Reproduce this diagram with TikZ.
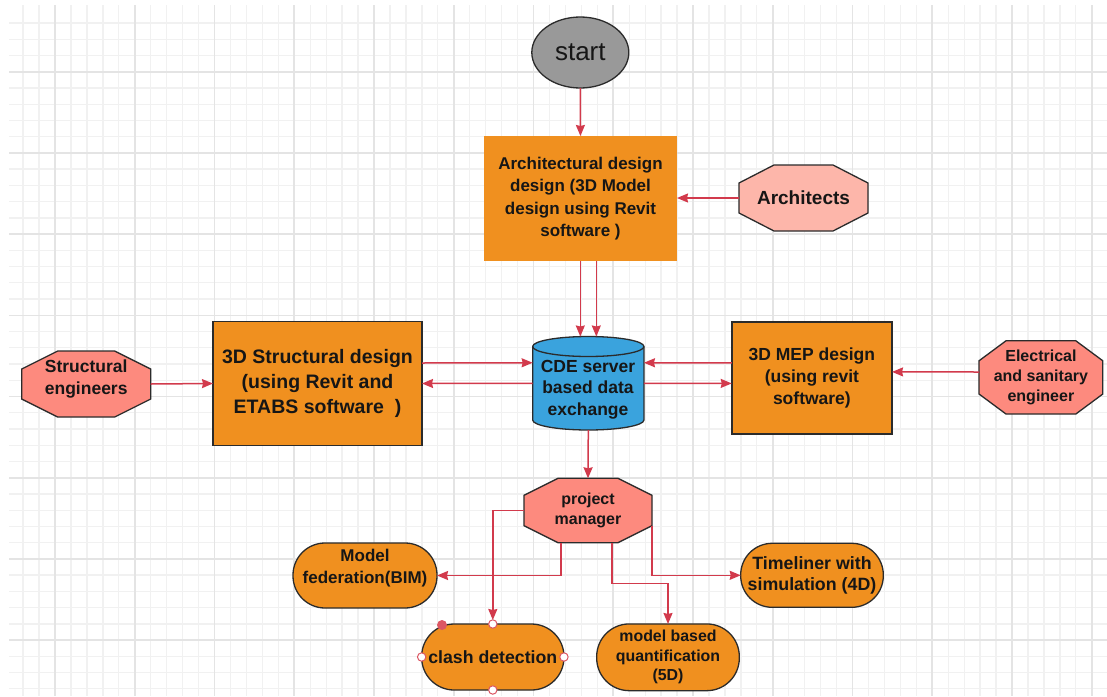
\documentclass[tikz,border=0pt]{standalone}
\usepackage{fontspec}
\setmainfont{Liberation Sans}
\usetikzlibrary{shapes.geometric, arrows.meta}

\definecolor{gridminor}{HTML}{F1F1F1}
\definecolor{gridmajor}{HTML}{E4E4E4}
\definecolor{boxorange}{HTML}{F0901F}
\definecolor{salmon}{HTML}{FD8A7E}
\definecolor{lightsalmon}{HTML}{FDB6AA}
\definecolor{cdeblue}{HTML}{3AA3DD}
\definecolor{startgray}{HTML}{999999}
\definecolor{linkred}{HTML}{D23A4C}
\definecolor{handlered}{HTML}{DC5663}
\definecolor{edge}{HTML}{2B2B2B}
\definecolor{ink}{HTML}{161616}

\pgfdeclarelayer{gridlayer}
\pgfdeclarelayer{shapelayer}
\pgfsetlayers{gridlayer,shapelayer,main}

% octagon outline drawn round a (borderless) rectangular node:
% #1 node name, #2 horizontal chamfer, #3 vertical chamfer, #4 fill colour
\newcommand\octoshape[4]{%
  \draw[line width=1.3pt, draw=edge, fill=#4, line join=miter]
    ([xshift=#2pt]#1.north west) -- ([xshift=-#2pt]#1.north east)
    -- ([yshift=-#3pt]#1.north east) -- ([yshift=#3pt]#1.south east)
    -- ([xshift=-#2pt]#1.south east) -- ([xshift=#2pt]#1.south west)
    -- ([yshift=#3pt]#1.south west) -- ([yshift=-#3pt]#1.north west) -- cycle;}

\tikzset{
  txt/.style={text=ink, align=center, inner sep=0pt},
  obox/.style={txt, rectangle, fill=boxorange, outer sep=0pt},
  octo/.style={txt, rectangle, outer sep=0pt},
  pill/.style={txt, rectangle, fill=boxorange, draw=edge, line width=1.3pt, outer sep=0pt},
  startnode/.style={ellipse, draw=edge, line width=1.3pt, fill=startgray, text=ink,
    inner sep=0pt, outer sep=0pt},
  link/.style={draw=linkred, line width=1.5pt,
    -{Stealth[length=11pt, width=9pt, inset=1pt]}},
  handle/.style={draw=handlered, fill=white, line width=1pt},
}

\begin{document}
\begin{tikzpicture}[x=1pt, y=-1pt]
\useasboundingbox (0,0) rectangle (1107,696);

% squared paper
\begin{pgfonlayer}{gridlayer}
  \fill[white] (0,0) rectangle (1107,696);
  \foreach \i in {-2,...,65}
    \draw[gridminor, line width=1.3pt] ({55+\i*15.95},5) -- ({55+\i*15.95},696);
  \foreach \j in {-3,...,38}
    \draw[gridminor, line width=1.3pt] (9,{71.7+\j*16.24}) -- (1107,{71.7+\j*16.24});
  \foreach \i in {0,5,...,65}
    \draw[gridmajor, line width=1.6pt] ({55+\i*15.95},5) -- ({55+\i*15.95},696);
  \foreach \j in {0,5,...,35}
    \draw[gridmajor, line width=1.6pt] (9,{71.7+\j*16.24}) -- (1107,{71.7+\j*16.24});
\end{pgfonlayer}

% ---- nodes ----
\node[startnode, minimum width=97pt, minimum height=71pt,
      font=\fontsize{26}{30}\selectfont] (start) at (580.3,52.5) {start};

\node[obox, minimum width=193pt, minimum height=125pt,
      font=\bfseries\fontsize{17}{22.5}\selectfont] (arch) at (580.5,198.5)
  {Architectural design\\design (3D Model\\design using Revit\\software )};

\node[octo, minimum width=129pt, minimum height=66pt,
      font=\bfseries\fontsize{19}{22}\selectfont] (architects) at (803.5,198) {Architects};

\node[octo, minimum width=129pt, minimum height=66pt] (se) at (86.2,384) {};
\node[txt, font=\bfseries\fontsize{17.5}{22}\selectfont] (setext) at (86.2,379.5)
  {Structural\\engineers};

\node[obox, draw=edge, line width=1.5pt, minimum width=209pt, minimum height=124pt,
      font=\bfseries\fontsize{19.5}{25}\selectfont] (struct) at (317.5,383.5)
  {3D Structural design\\(using Revit and\\ETABS software\ \ )};

\node[rectangle, minimum width=111.3pt, minimum height=93.5pt, inner sep=0pt,
      outer sep=0pt] (cde) at (588.3,383.25) {};
\node[txt, font=\bfseries\fontsize{17.5}{21.5}\selectfont] (cdetext) at (588,389.5)
  {CDE server\\based data\\exchange};

\node[obox, draw=edge, line width=1.5pt, minimum width=160.3pt, minimum height=112.3pt,
      font=\bfseries\fontsize{17.5}{22}\selectfont] (mep) at (811.9,377.9)
  {3D MEP design\\(using revit\\software)};

\node[octo, minimum width=123.7pt, minimum height=73.3pt,
      font=\bfseries\fontsize{16}{20}\selectfont] (elec) at (1040.9,377.4)
  {Electrical\\and sanitary\\engineer};

\node[octo, minimum width=128pt, minimum height=64.4pt,
      font=\bfseries\fontsize{16}{19.7}\selectfont] (pm) at (588,510.5)
  {project\\manager};

\node[pill, rounded corners=32pt, minimum width=144pt, minimum height=65pt] (mf) at (365,575.5) {};
\node[txt, font=\bfseries\fontsize{17}{22}\selectfont] (mftext) at (365,568)
  {Model\\federation(BIM)};

\node[pill, rounded corners=32.5pt, minimum width=142.3pt, minimum height=66pt,
      font=\bfseries\fontsize{17.7}{21}\selectfont] (clash) at (492.8,657) {clash detection};

\node[pill, rounded corners=32.5pt, minimum width=142.6pt, minimum height=66.7pt,
      font=\bfseries\fontsize{15.9}{19.5}\selectfont] (mbq) at (668,657.3)
  {model based\\quantification\\(5D)};

\node[pill, rounded corners=31.5pt, minimum width=142.6pt, minimum height=64pt,
      font=\bfseries\fontsize{17.8}{21.7}\selectfont] (tl) at (812,575.3)
  {Timeliner with\\simulation (4D)};

% ---- octagons and the data-exchange cylinder ----
\begin{pgfonlayer}{shapelayer}
  \octoshape{architects}{35}{18}{lightsalmon}
  \octoshape{se}{36}{18}{salmon}
  \octoshape{elec}{27}{20}{salmon}
  \octoshape{pm}{34}{17}{salmon}
  \draw[draw=edge, fill=cdeblue, line width=1.3pt]
    ([yshift=-10pt]cde.north west) -- ([yshift=10pt]cde.south west)
    arc[start angle=180, end angle=360, x radius=55.65pt, y radius=10pt]
    -- ([yshift=-10pt]cde.north east)
    arc[start angle=0, end angle=180, x radius=55.65pt, y radius=10pt] -- cycle;
  \draw[draw=edge, line width=1.3pt] ([yshift=-10pt]cde.north west)
    arc[start angle=180, end angle=360, x radius=55.65pt, y radius=10pt];
\end{pgfonlayer}

% ---- connectors ----
\draw[link] (start) -- (arch);
\draw[link] (arch.south -| cde.north) ++(-8,0) -- ([xshift=-8pt]cde.north);
\draw[link] (arch.south -| cde.north) ++(8,0) -- ([xshift=8pt]cde.north);
\draw[link] (architects.west) -- (arch.east |- architects.west);
\draw[link] (se.east) -- (struct.west);
\draw[link] ([yshift=20.5pt]struct.east) -- ([yshift=20.5pt]cde.west);
\draw[link] (cde.west) -- (struct.east);
\draw[link] ([yshift=15pt]mep.west) -- ([yshift=20.5pt]cde.east);
\draw[link] (cde.east) -- ([yshift=-5.5pt]mep.west);
\draw[link] ([yshift=5.4pt]elec.west) -- ([yshift=6pt]mep.east);
\draw[link] (cde.south) -- (pm.north);
\draw[link, shorten >=4pt] (pm.west) -| (clash.north);
\draw[link] ([xshift=-27pt]pm.south) |- (mf.east);
\draw[link] ([xshift=24pt]pm.south) -- ++(0,41) -| (mbq.north);
\draw[link] ([yshift=-15pt]pm.east) |- (tl.west);

% selection handles on the clash detection shape
\foreach \a in {north,south,east,west}
  \draw[handle] (clash.\a) circle[radius=4.2pt];
\fill[handlered] (442,625) circle[radius=5pt];
\end{tikzpicture}
\end{document}
